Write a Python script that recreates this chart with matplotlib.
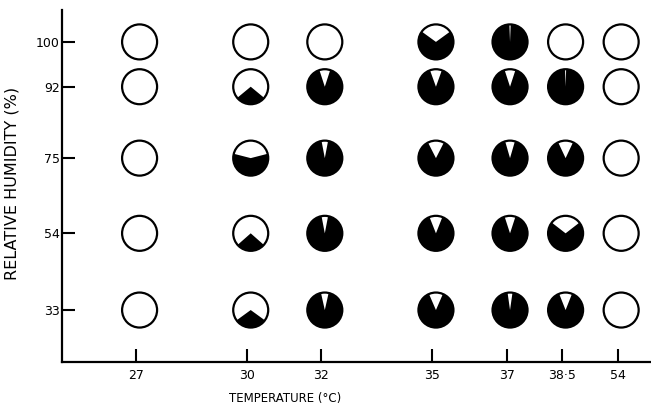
import matplotlib
matplotlib.use("Agg")
import matplotlib.pyplot as plt
import matplotlib.transforms as mtransforms
from matplotlib.patches import Wedge, Circle

# temperatures (54 sits after a break in the axis)
temp_labels = ["27", "30", "32", "35", "37", "38·5", "54"]
temp_pos = [27, 30, 32, 35, 37, 38.5, 40]

humidity = [33, 54, 75, 92, 100]
hum_pos = [0, 1.01, 2.0, 2.94, 3.53]

# black (filled) fraction of each circle, per humidity row, by temperature
rh_33 = [0, 0.30, 0.93, 0.87, 0.955, 0.88, 0]
rh_54 = [0, 0.27, 0.94, 0.88, 0.90, 0.71, 0]
rh_75 = [0, 0.58, 0.94, 0.85, 0.91, 0.86, 0]
rh_92 = [0, 0.28, 0.90, 0.89, 0.90, 0.99, 0]
rh_100 = [0, 0, 0, 0.70, 0.988, 0, 0]
rows = [rh_33, rh_54, rh_75, rh_92, rh_100]

fig = plt.figure(figsize=(6.51, 4.05), dpi=100)
ax = fig.add_axes([62 / 651, 1 - 362 / 405, 1 - 62 / 651, 352 / 405])
ax.set_xlim(25.0, 40.9)
ax.set_ylim(-0.684, 3.95)

for s in ["top", "right"]:
    ax.spines[s].set_visible(False)
for s in ["left", "bottom"]:
    ax.spines[s].set_linewidth(1.6)

ax.set_xticks(temp_pos)
ax.set_xticklabels(temp_labels)
ax.set_yticks(hum_pos)
ax.set_yticklabels([str(h) for h in humidity])
ax.tick_params(axis="both", direction="in", length=9.5, width=1.5, labelsize=9)
ax.tick_params(axis="x", pad=5)
ax.tick_params(axis="y", pad=1.5)

ax.set_xlabel("TEMPERATURE (°C)", fontsize=8.5)
ax.xaxis.set_label_coords(0.379, -0.085)
ax.set_ylabel("RELATIVE HUMIDITY (%)", fontsize=11.5)
ax.yaxis.set_label_coords(-0.073, 0.507)

r = 0.175  # inches
for yp, vals in zip(hum_pos, rows):
    for xp, f in zip(temp_pos, vals):
        trans = fig.dpi_scale_trans + mtransforms.ScaledTranslation(xp, yp, ax.transData) \
            + mtransforms.Affine2D().translate(3.5, 0)
        ax.add_patch(Circle((0, 0), r, facecolor="white", edgecolor="none",
                            transform=trans, clip_on=False))
        if f > 0:
            ax.add_patch(Wedge((0, 0), r, 270 - f * 180, 270 + f * 180,
                               facecolor="black", edgecolor="none",
                               transform=trans, clip_on=False))
        ax.add_patch(Circle((0, 0), r, facecolor="none", edgecolor="black",
                            linewidth=1.6, transform=trans, clip_on=False))

fig.savefig("out.png", dpi=100)
